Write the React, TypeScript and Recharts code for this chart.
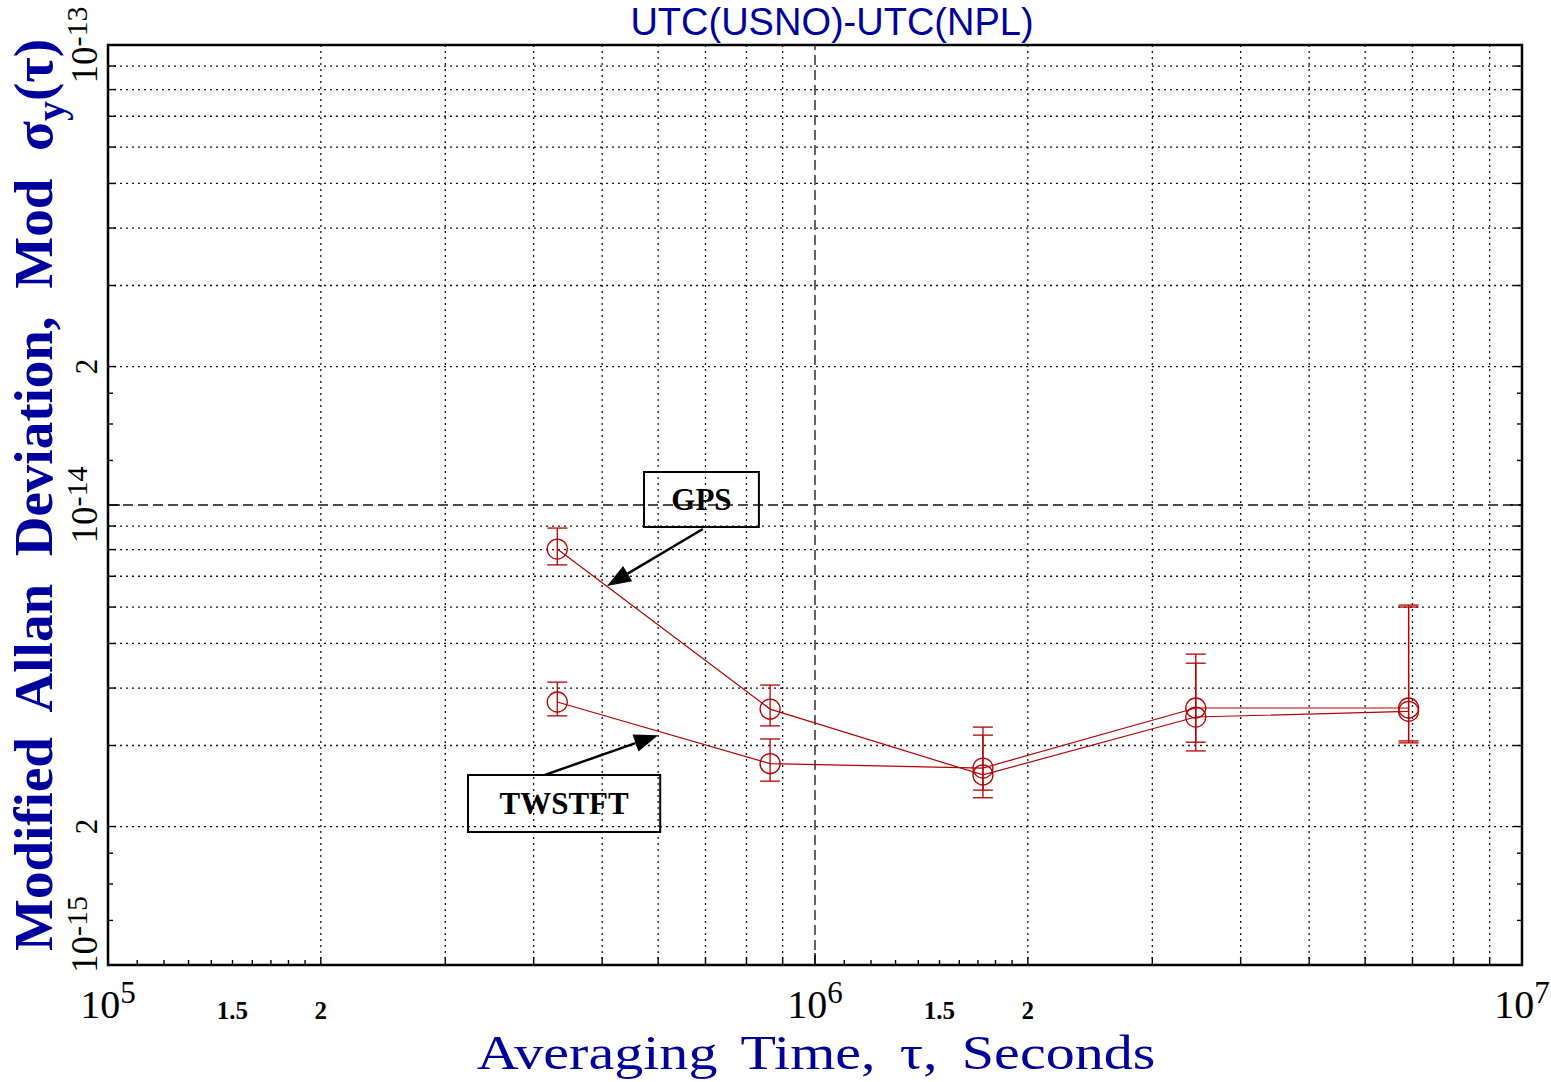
import React from 'react';
import {
  ComposedChart,
  Line,
  XAxis,
  YAxis,
  ErrorBar,
  ReferenceLine,
  ReferenceArea,
} from 'recharts';

const RED = '#b30000';
const BLUE = '#00009c';
const SERIF = "'Liberation Serif', 'Times New Roman', serif";
const SANS = "'Liberation Sans', Arial, sans-serif";

// averaging times in seconds (5, 10, 20, 40, 80 days)
const tau = [432000, 864000, 1728000, 3456000, 6912000];

// GPS link
const gpsDev = [8.02e-15, 3.6e-15, 2.59e-15, 3.46e-15, 3.56e-15];
const gpsLow = [7.41e-15, 3.31e-15, 2.4e-15, 2.92e-15, 3.04e-15];
const gpsHigh = [8.91e-15, 4.06e-15, 3.29e-15, 4.53e-15, 6.0e-15];

// TWSTFT link
const twDev = [3.73e-15, 2.74e-15, 2.68e-15, 3.62e-15, 3.62e-15];
const twLow = [3.48e-15, 2.51e-15, 2.31e-15, 3.05e-15, 3.07e-15];
const twHigh = [4.12e-15, 3.1e-15, 3.16e-15, 4.74e-15, 6.06e-15];

// axes
const xDecades = [1e5, 1e6, 1e7];
const yDecades = [1e-15, 1e-14, 1e-13];
const gridMults = [2, 3, 4, 5, 6, 7, 8, 9];
const xMinorMults = [1.1, 1.2, 1.3, 1.4, 1.5, 1.6, 1.7, 1.8, 1.9];
const yMinorMults = [1.25, 1.5, 1.75];
const xLabelMults = [1.5, 2];
const yLabelMults = [2];

// annotation boxes / arrows (data coordinates)
const gpsBox = { x1: 5.73e5, x2: 8.33e5, y1: 8.96e-15, y2: 1.18e-14 };
const gpsArrow = [{ x: 6.94e5, y: 8.87e-15 }, { x: 5.08e5, y: 6.67e-15 }];
const twBox = { x1: 3.23e5, x2: 6.04e5, y1: 1.945e-15, y2: 2.59e-15 };
const twArrow = [{ x: 4.15e5, y: 2.59e-15 }, { x: 6.0e5, y: 3.16e-15 }];

const inner = (decades: number[]) => decades.slice(0, -1);
const xGrid = inner(xDecades).flatMap((d) => gridMults.map((m) => d * m));
const yGrid = inner(yDecades).flatMap((d) => gridMults.map((m) => d * m));
const xTicks = [
  ...xDecades,
  ...xGrid,
  ...inner(xDecades).flatMap((d) => xMinorMults.map((m) => d * m)),
].sort((a, b) => a - b);
const yTicks = [
  ...yDecades,
  ...yGrid,
  ...inner(yDecades).flatMap((d) => yMinorMults.map((m) => d * m)),
].sort((a, b) => a - b);

const data = tau.map((t, i) => ({
  tau: t,
  gps: gpsDev[i],
  gpsErr: [gpsDev[i] - gpsLow[i], gpsHigh[i] - gpsDev[i]],
  tw: twDev[i],
  twErr: [twDev[i] - twLow[i], twHigh[i] - twDev[i]],
}));

const mant = (v: number) => {
  const e = Math.floor(Math.log10(v) + 1e-9);
  return { e, m: v / Math.pow(10, e) };
};
const near = (a: number, b: number) => Math.abs(a - b) < 1e-6;
const tickLen = (m: number) => (near(m, 1) ? 12 : near(m, Math.round(m)) ? 8 : 5);

const XTick = (props: any) => {
  const { x, y, payload, side } = props;
  const v = payload.value;
  const { e, m } = mant(v);
  const dir = side === 'bottom' ? -1 : 1;
  let label: React.ReactNode = null;
  if (side === 'bottom') {
    if (near(m, 1)) {
      label = (
        <text x={x} y={y + 53} textAnchor="middle" fontFamily={SERIF} fontSize={40} fill="#000">
          10
          <tspan dy={-15} fontSize={31}>
            {e}
          </tspan>
        </text>
      );
    } else if (xLabelMults.some((k) => near(m, k))) {
      label = (
        <text x={x} y={y + 54} textAnchor="middle" fontFamily={SERIF} fontSize={25} fontWeight="bold" fill="#000">
          {near(m, 2) ? '2' : '1.5'}
        </text>
      );
    }
  }
  return (
    <g>
      <line x1={x} y1={y} x2={x} y2={y + dir * tickLen(m)} stroke="#000" strokeWidth={1.4} />
      {label}
    </g>
  );
};

const YTick = (props: any) => {
  const { x, y, payload, side, lo } = props;
  const v = payload.value;
  const { e, m } = mant(v);
  const dir = side === 'left' ? 1 : -1;
  let label: React.ReactNode = null;
  if (side === 'left') {
    const lx = x - 11;
    if (near(m, 1)) {
      const atBottom = near(v / lo, 1);
      const ly = atBottom ? y + 8 : y;
      label = (
        <text
          x={lx}
          y={ly}
          transform={`rotate(-90 ${lx} ${ly})`}
          textAnchor={atBottom ? 'start' : 'middle'}
          fontFamily={SERIF}
          fontSize={37}
          fill="#000"
        >
          10
          <tspan dy={-10} fontSize={30}>
            {e}
          </tspan>
        </text>
      );
    } else if (yLabelMults.some((k) => near(m, k))) {
      label = (
        <text
          x={lx}
          y={y}
          transform={`rotate(-90 ${lx} ${y})`}
          textAnchor="middle"
          fontFamily={SERIF}
          fontSize={31}
          fill="#000"
        >
          2
        </text>
      );
    }
  }
  return (
    <g>
      <line x1={x} y1={y} x2={x + dir * tickLen(m)} y2={y} stroke="#000" strokeWidth={1.4} />
      {label}
    </g>
  );
};

const Arrow = (props: any) => {
  const { x1, y1, x2, y2 } = props;
  const ang = Math.atan2(y2 - y1, x2 - x1);
  const hl = 24;
  const hw = 9;
  const bx = x2 - hl * Math.cos(ang);
  const by = y2 - hl * Math.sin(ang);
  const px = -Math.sin(ang) * hw;
  const py = Math.cos(ang) * hw;
  return (
    <g>
      <line x1={x1} y1={y1} x2={bx} y2={by} stroke="#000" strokeWidth={2.5} />
      <polygon points={`${x2},${y2} ${bx + px},${by + py} ${bx - px},${by - py}`} fill="#000" />
    </g>
  );
};

const boxLabel = (text: string) => ({
  value: text,
  position: 'center' as const,
  fill: '#000',
  fontSize: 31,
  fontWeight: 'bold',
  fontFamily: SERIF,
});

const W = 1551;
const H = 1082;

const logAxis = {
  type: 'number' as const,
  scale: 'log' as const,
  allowDataOverflow: true,
  interval: 0,
  tickSize: 0,
  tickMargin: 0,
  axisLine: false,
  tickLine: false,
};

export default function App() {
  return (
    <div style={{ position: 'absolute', left: 0, top: 0, width: W, height: H, background: '#fff' }}>
      <ComposedChart
        width={W}
        height={H}
        data={data}
        margin={{ top: 44, right: 28, bottom: 116, left: 107 }}
      >
        <XAxis
          {...logAxis}
          dataKey="tau"
          domain={[xDecades[0], xDecades[2]]}
          ticks={xTicks}
          height={1}
          tick={(p: any) => <XTick {...p} side="bottom" />}
        />
        <XAxis
          {...logAxis}
          xAxisId="top"
          orientation="top"
          domain={[xDecades[0], xDecades[2]]}
          ticks={xTicks}
          height={1}
          tick={(p: any) => <XTick {...p} side="top" />}
        />
        <YAxis
          {...logAxis}
          domain={[yDecades[0], yDecades[2]]}
          ticks={yTicks}
          width={1}
          tick={(p: any) => <YTick {...p} side="left" lo={yDecades[0]} />}
        />
        <YAxis
          {...logAxis}
          yAxisId="right"
          orientation="right"
          domain={[yDecades[0], yDecades[2]]}
          ticks={yTicks}
          width={1}
          tick={(p: any) => <YTick {...p} side="right" lo={yDecades[0]} />}
        />

        {xGrid.map((v) => (
          <ReferenceLine key={`xg${v}`} x={v} stroke="#111" strokeWidth={1.3} strokeDasharray="2 4" />
        ))}
        {yGrid.map((v) => (
          <ReferenceLine key={`yg${v}`} y={v} stroke="#111" strokeWidth={1.3} strokeDasharray="2 4" />
        ))}
        <ReferenceLine x={xDecades[1]} stroke="#111" strokeWidth={1.3} strokeDasharray="10 5" />
        <ReferenceLine y={yDecades[1]} stroke="#111" strokeWidth={1.3} strokeDasharray="10 5" />

        <Line
          dataKey="gps"
          stroke={RED}
          strokeWidth={1.2}
          dot={{ r: 10, fill: 'none', stroke: RED, strokeWidth: 1.3 }}
          activeDot={false}
          isAnimationActive={false}
        >
          <ErrorBar dataKey="gpsErr" direction="y" width={10} stroke={RED} strokeWidth={1.3} />
        </Line>
        <Line
          dataKey="tw"
          stroke={RED}
          strokeWidth={1.2}
          dot={{ r: 10, fill: 'none', stroke: RED, strokeWidth: 1.3 }}
          activeDot={false}
          isAnimationActive={false}
        >
          <ErrorBar dataKey="twErr" direction="y" width={10} stroke={RED} strokeWidth={1.3} />
        </Line>

        <ReferenceArea {...gpsBox} fill="#fff" fillOpacity={1} stroke="#000" strokeWidth={2} label={boxLabel('GPS')} />
        <ReferenceArea {...twBox} fill="#fff" fillOpacity={1} stroke="#000" strokeWidth={2} label={boxLabel('TWSTFT')} />
        <ReferenceLine segment={gpsArrow} shape={Arrow} />
        <ReferenceLine segment={twArrow} shape={Arrow} />

        <ReferenceArea
          x1={xDecades[0]}
          x2={xDecades[2]}
          y1={yDecades[0]}
          y2={yDecades[2]}
          fill="none"
          stroke="#000"
          strokeWidth={2.5}
        />
      </ComposedChart>

      <svg
        width={W}
        height={H}
        style={{ position: 'absolute', left: 0, top: 0, pointerEvents: 'none' }}
      >
        <text x={832} y={35} textAnchor="middle" fontFamily={SANS} fontSize={38} fill={BLUE}>
          UTC(USNO)-UTC(NPL)
        </text>
        <text
          x={0}
          y={0}
          transform="translate(816 1069) scale(1.21 1)"
          textAnchor="middle"
          fontFamily={SERIF}
          fontSize={48}
          wordSpacing={8}
          fill={BLUE}
        >
          Averaging Time, τ, Seconds
        </text>
        <text
          x={52}
          y={495}
          transform="rotate(-90 52 495)"
          textAnchor="middle"
          fontFamily={SERIF}
          fontSize={55}
          fontWeight="bold"
          wordSpacing={14}
          fill={BLUE}
        >
          Modified Allan Deviation, Mod σ
          <tspan dy={12} fontSize={40}>
            y
          </tspan>
          <tspan dy={-12}>(τ)</tspan>
        </text>
      </svg>
    </div>
  );
}
